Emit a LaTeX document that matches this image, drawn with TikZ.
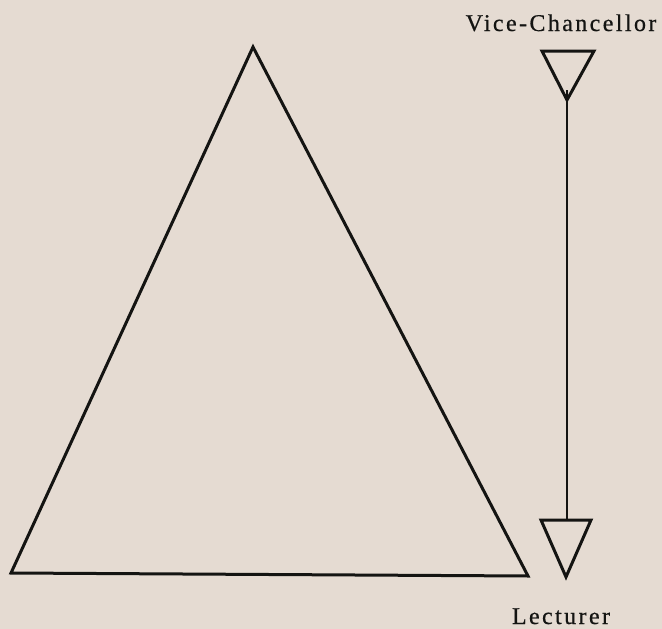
\documentclass[tikz,border=0pt]{standalone}
\usepackage{fontspec}
\setmainfont{Liberation Serif}
\definecolor{paper}{RGB}{229,219,210}
\definecolor{ink}{RGB}{20,20,18}
\begin{document}
\begin{tikzpicture}[x=1pt,y=-1pt,
  shape line/.style={draw=ink,line width=3pt,line join=miter},
  rank/.style={inner sep=0pt,anchor=base,text=ink,font=\fontsize{24}{26}\selectfont\addfontfeature{LetterSpace=10,FakeBold=0.6}}]
\fill[paper] (0,0) rectangle (662,629);
\useasboundingbox (0,0) rectangle (662,629);
% big triangle
\coordinate (apex) at (253,47);
\coordinate (bl) at (11,573);
\coordinate (br) at (528,576);
\draw[shape line] (apex) -- (bl) -- (br) -- cycle;
% top small triangle
\coordinate (t1) at (542,51);
\coordinate (t2) at (594,51);
\coordinate (ta) at (567,100);
\draw[shape line] (t1) -- (t2) -- (ta) -- cycle;
% bottom small triangle
\coordinate (b1) at (541,520);
\coordinate (b2) at (591,520);
\coordinate (ba) at (566,577);
\draw[shape line] (b1) -- (b2) -- (ba) -- cycle;
% connector
\coordinate (lt) at (567,90);
\coordinate (lb) at (567,520);
\draw[draw=ink,line width=2.2pt] (lt) -- (lb);
% labels
\node[rank] (vc) at (561,31) {Vice-Chancellor};
\node[rank] (lec) at (561,624) {Lecturer};
\end{tikzpicture}
\end{document}
